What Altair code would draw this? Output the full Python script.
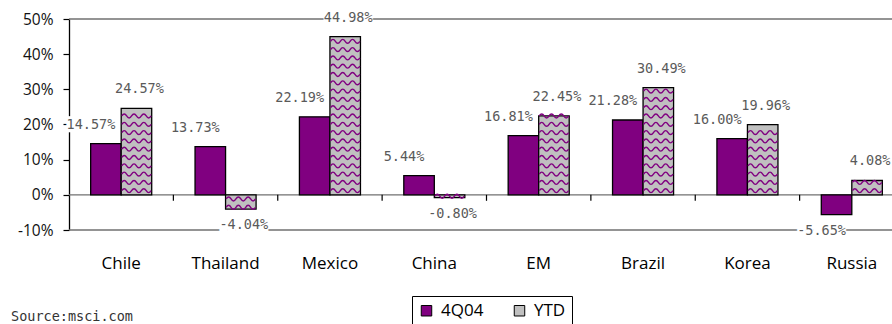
import altair as alt
import pandas as pd

categories = ["Chile", "Thailand", "Mexico", "China", "EM", "Brazil", "Korea", "Russia"]
series_names = ["4Q04", "YTD"]
q4_values = [14.57, 13.73, 22.19, 5.44, 16.81, 21.28, 16.00, -5.65]
ytd_values = [24.57, -4.04, 44.98, -0.80, 22.45, 30.49, 19.96, 4.08]
y_ticks = [-0.1, 0.0, 0.1, 0.2, 0.3, 0.4, 0.5]
frame_lines = [0.5, -0.1, 0.0]
source_text = ["Source:msci.com"]

rows = []
for s, vals in zip(series_names, [q4_values, ytd_values]):
    for c, v in zip(categories, vals):
        rows.append({"cat": c, "series": s, "value": v / 100.0,
                     "label": f"{v:.2f}%", "block": "\u2588" * (len(f"{v:.2f}%"))})
df = pd.DataFrame(rows)

PURPLE = "#800080"
GRAY = "#c0c0c0"
LABEL_FONT = "DejaVu Sans Mono"
AXIS_FONT = "Open Sans"

W, H = 823, 211
x_scale = alt.Scale(range=[0, 835], paddingInner=0, paddingOuter=0)
y_scale = alt.Scale(domain=[-0.1, 0.5], nice=False)
y_axis = alt.Axis(values=y_ticks, labelExpr="round(datum.value*100) + '%'")


def X():
    return alt.X("cat:N", sort=categories, scale=x_scale, title=None)


def XO():
    return alt.XOffset("series:N", sort=series_names,
                       scale=alt.Scale(paddingInner=0, paddingOuter=0.71))


def Y(field):
    return alt.Y(field, scale=y_scale, axis=y_axis, title=None)


lines = alt.Chart(pd.DataFrame({"ly": frame_lines})).mark_rule(
    color="#707070", strokeWidth=1.3
).encode(y=Y("ly:Q"), x=alt.value(0), x2=alt.value(W))

ticks = alt.Chart(pd.DataFrame({"cat": categories[1:]})).transform_calculate(
    t0="0", t1="-0.017"
).mark_rule(color="black", strokeWidth=1.2).encode(
    x=alt.X("cat:N", sort=categories, scale=x_scale, title=None, bandPosition=0),
    y=Y("t0:Q"), y2="t1:Q"
)

bars = alt.Chart(df).mark_bar(stroke="black", strokeWidth=1.3).encode(
    x=X(), xOffset=XO(), y=Y("value:Q"),
    color=alt.Color("series:N", sort=series_names,
                    scale=alt.Scale(domain=series_names, range=[PURPLE, GRAY]),
                    legend=alt.Legend(
                        orient="none", legendX=343, legendY=277, direction="horizontal",
                        title=None, strokeColor="black", fillColor="white", padding=6,
                        symbolType="square", symbolSize=110, symbolStrokeColor="black",
                        symbolStrokeWidth=1, labelFont=AXIS_FONT, labelFontSize=17,
                        labelColor="black", labelOffset=6, columnPadding=27)),
)

wave_path = "M-1,0 Q-0.833,-0.267 -0.667,0 T-0.333,0 T0,0 T0.333,0 T0.667,0 T1,0"
waves = alt.Chart(df).transform_filter(
    "datum.series == 'YTD'"
).transform_calculate(
    seq="sequence(min(0.0118, abs(datum.value)/2), abs(datum.value), 0.0236)"
).transform_flatten(["seq"]).transform_calculate(
    wy="datum.value < 0 ? -datum.seq : datum.seq"
).mark_point(shape=wave_path, filled=False, stroke=PURPLE, strokeWidth=1.4,
             size=860, opacity=1).encode(x=X(), xOffset=XO(), y=Y("wy:Q"))

label_layers = []
for s, dx in [("4Q04", -15), ("YTD", 3)]:
    base = alt.Chart(df).transform_filter(f"datum.series == '{s}'").transform_calculate(
        ly="datum.value >= 0 ? datum.value + 0.054 : datum.value - 0.046"
    )
    box = base.mark_text(font=LABEL_FONT, fontSize=13.5, color="white", dx=dx,
                         baseline="middle", align="center").encode(
        x=X(), xOffset=XO(), y=Y("ly:Q"), text="block:N")
    txt = base.mark_text(font=LABEL_FONT, fontSize=13.5, color="#5a5a5a", dx=dx,
                         baseline="middle", align="center").encode(
        x=X(), xOffset=XO(), y=Y("ly:Q"), text="label:N")
    label_layers += [box, txt]

source = alt.Chart(pd.DataFrame({"t": source_text})).mark_text(
    font=LABEL_FONT, fontSize=13.5, color="#333333", align="left", baseline="middle"
).encode(text="t:N", x=alt.value(-58), y=alt.value(298))

chart = alt.layer(lines, ticks, bars, waves, *label_layers, source).properties(
    width=W, height=H,
    padding={"left": 69, "top": 19, "right": 0, "bottom": 94},
    autosize=alt.AutoSizeParams(type="none"),
).configure_view(stroke=None).configure_axisX(
    domain=False, ticks=False, labelAngle=0, labelFont=AXIS_FONT, labelFontSize=17,
    labelColor="black", labelPadding=25, grid=False
).configure_axisY(
    domain=True, domainColor="black", domainWidth=1.3, ticks=True, tickColor="black",
    tickSize=6, tickWidth=1.2, labelFont=AXIS_FONT, labelFontSize=15.5, labelColor="#111111",
    labelPadding=10, grid=False
)

chart.save("out.html", embed_options={"renderer": "svg", "actions": False})
